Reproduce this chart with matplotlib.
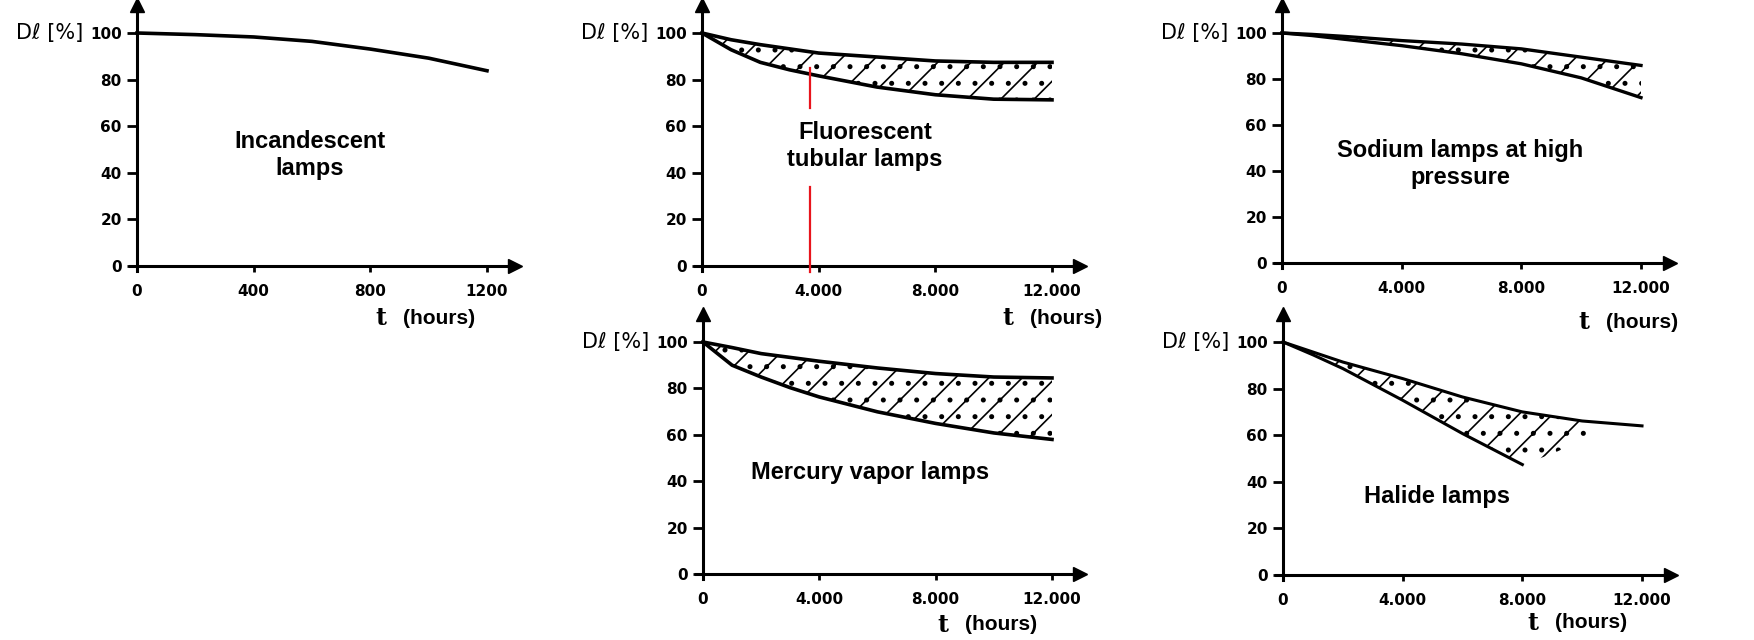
import matplotlib.pyplot as plt
import numpy as np

W, H = 1754, 640

# values (t in hours, D in %)
t_inc = [0, 200, 400, 600, 800, 1000, 1200]
inc = [100, 99.3, 98.3, 96.4, 93.1, 89.2, 83.8]

t_long = [0, 1000, 2000, 4000, 6000, 8000, 10000, 12000]
t_fine = [0, 500, 1000, 2000, 3000, 4000, 6000, 8000, 10000, 12000]
fluo_hi = [100, 97.1, 95, 91.4, 89.7, 88, 87.4, 87.4]
fluo_lo = [100, 96.4, 92.8, 87.4, 84.2, 81.6, 76.8, 73.5, 71.6, 71.3]
sod_hi = [100, 99.4, 98.6, 96.7, 95.2, 93.1, 89.5, 85.9]
sod_lo = [100, 98.9, 97.4, 94.5, 91, 86.6, 80.5, 71.9]
merc_hi = [100, 97.6, 95, 91.7, 88.8, 86.4, 84.9, 84.5]
merc_lo = [100, 95, 90, 84.9, 80.3, 76.3, 69.9, 64.9, 60.8, 58]
hal_hi = [100, 95.7, 91.4, 84.3, 76.4, 70, 66.1, 64]
t_hal_lo = [0, 1000, 2000, 4000, 6000, 8000]
hal_lo = [100, 94.5, 88.6, 75, 60.7, 47.4]
# dashed tail of the halide band past the end of the lower curve
t_hal_tail = [8000, 9000, 10000, 10700]
hal_tail = [47.4, 52, 58, 65.5]

fluo_mark_t = 3700   # red marker line
fluo_mark_spans = [(67.7, 85), (-2.6, 34)]

ticks_short = [0, 400, 800, 1200]
ticks_short_lbl = ['0', '400', '800', '1200']
ticks_long = [0, 4000, 8000, 12000]
ticks_long_lbl = ['0', '4.000', '8.000', '12.000']
yticks = [0, 20, 40, 60, 80, 100]

titles = ['Incandescent\nlamps', 'Fluorescent\ntubular lamps',
          'Sodium lamps at high\npressure', 'Mercury vapor lamps',
          'Halide lamps']

SANS = 'Liberation Sans'

fig = plt.figure(figsize=(W / 100, H / 100), dpi=100)


def panel(left, zero, xend, top, xmax, ticks, tlabels):
    # left/zero/xend/top in pixels: y-axis x, y=0 row, x=xmax column, y=100 row
    wpx = (xend - left) * 1.08
    hpx = (zero - top) * 1.12
    ax = fig.add_axes([left / W, (H - zero) / H, wpx / W, hpx / H])
    ax.set_xlim(0, xmax * 1.08)
    ax.set_ylim(0, 112)
    for s in ['top', 'right']:
        ax.spines[s].set_visible(False)
    for s in ['left', 'bottom']:
        ax.spines[s].set_linewidth(2.2)
    ax.spines['bottom'].set_bounds(-xmax * 0.02, xmax * 1.08)
    ax.spines['left'].set_bounds(-2, 112)
    ax.plot(1, 0, '>k', ms=10, transform=ax.get_yaxis_transform(), clip_on=False)
    ax.plot(0, 1, '^k', ms=10, transform=ax.get_xaxis_transform(), clip_on=False)
    ax.set_yticks(yticks)
    ax.set_xticks(ticks)
    ax.set_xticklabels(tlabels)
    ax.tick_params(axis='y', direction='out', length=7, width=2, pad=4,
                   labelsize=11)
    ax.tick_params(axis='x', direction='out', length=4, width=2, pad=9,
                   labelsize=11)
    for lab in ax.get_xticklabels() + ax.get_yticklabels():
        lab.set_fontweight('bold')
    ax.patch.set_alpha(0)
    # y label "Dl [%]" next to the 100 tick
    fig.text((left - 54) / W, 1 - top / H, 'Dℓ [%]', ha='right', va='center',
             fontsize=15)
    return ax


def band(ax, x_hi, y_hi, x_lo, y_lo):
    xs = list(x_hi) + list(x_lo)[::-1]
    ys = list(y_hi) + list(y_lo)[::-1]
    ax.fill(xs, ys, facecolor='none', edgecolor='k', lw=0, hatch='/.')


plt.rcParams['hatch.linewidth'] = 1.2

# panel 1: incandescent
a1 = panel(137, 266, 487, 33, 1200, ticks_short, ticks_short_lbl)
a1.plot(t_inc, inc, color='k', lw=2.6, clip_on=False)

# panel 2: fluorescent
a2 = panel(702, 266, 1052, 33, 12000, ticks_long, ticks_long_lbl)
band(a2, t_long, fluo_hi, t_fine, fluo_lo)
a2.plot(t_long, fluo_hi, color='k', lw=2.6, clip_on=False)
a2.plot(t_fine, fluo_lo, color='k', lw=2.6, clip_on=False)
for y0, y1 in fluo_mark_spans:
    a2.plot([fluo_mark_t, fluo_mark_t], [y0, y1], color='#e8141c', lw=1.6,
            clip_on=False, zorder=5)

# panel 3: sodium
a3 = panel(1282, 263, 1641, 33, 12000, ticks_long, ticks_long_lbl)
band(a3, t_long, sod_hi, t_long, sod_lo)
a3.plot(t_long, sod_hi, color='k', lw=2.4, clip_on=False)
a3.plot(t_long, sod_lo, color='k', lw=2.4, clip_on=False)

# panel 4: mercury vapor
a4 = panel(703, 574, 1052, 342, 12000, ticks_long, ticks_long_lbl)
band(a4, t_long, merc_hi, t_fine, merc_lo)
a4.plot(t_long, merc_hi, color='k', lw=2.6, clip_on=False)
a4.plot(t_fine, merc_lo, color='k', lw=2.6, clip_on=False)

# panel 5: halide
a5 = panel(1283, 575, 1642, 342, 12000, ticks_long, ticks_long_lbl)
band(a5, t_long[:7] + [t_hal_tail[-1]], hal_hi[:7] + [hal_tail[-1]],
     t_hal_lo + t_hal_tail[1:-1], hal_lo + hal_tail[1:-1])
a5.plot(t_long, hal_hi, color='k', lw=2.2, clip_on=False)
a5.plot(t_hal_lo, hal_lo, color='k', lw=2.2, clip_on=False)

# panel titles
title_pos = [(310, 155), (865, 146), (1460, 164), (870, 473), (1437, 497)]
for (x, y), txt in zip(title_pos, titles):
    fig.text(x / W, 1 - y / H, txt, ha='center', va='center', fontsize=17,
             fontweight='bold', family=SANS, linespacing=1.2)

# "t (hours)" axis labels
t_pos = [(381, 318), (1008, 318), (1584, 322), (943, 625), (1533, 623)]
for x, y in t_pos:
    fig.text(x / W, 1 - y / H, 't', ha='center', va='center', fontsize=17,
             fontweight='bold', family='DejaVu Serif')
    fig.text((x + 22) / W, 1 - y / H, '(hours)', ha='left', va='center',
             fontsize=15, fontweight='bold', family=SANS)

fig.savefig('out.png', dpi=100)
